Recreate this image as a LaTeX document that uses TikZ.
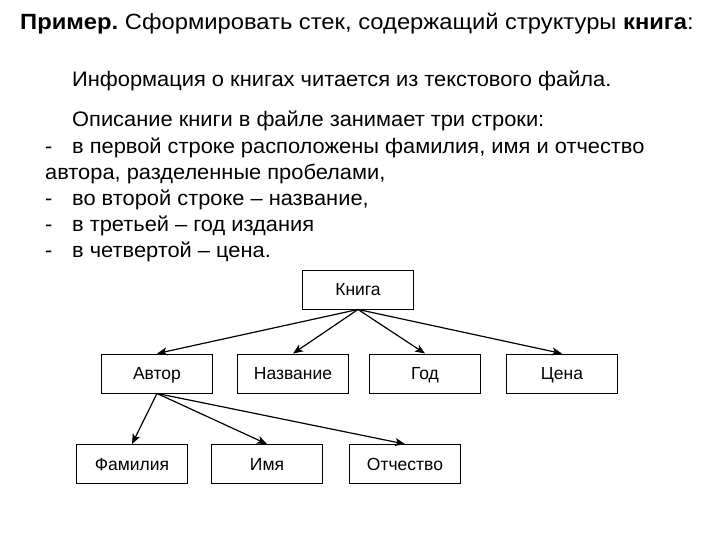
\documentclass[tikz,border=0pt]{standalone}
\usepackage{fontspec}
\setmainfont{Liberation Sans}
\newfontfamily\ttlfont[FakeStretch=1.08,Ligatures=TeX]{Liberation Sans}
\newfontfamily\bodyfont[FakeStretch=1.04,Ligatures=TeX]{Liberation Sans}
\usetikzlibrary{arrows.meta}
\frenchspacing
\begin{document}
\begin{tikzpicture}[x=1pt,y=-1pt,
  txt/.style={anchor=base west,inner sep=0pt,font=\bodyfont\fontsize{21}{24}\selectfont},
  ttl/.style={anchor=base west,inner sep=0pt,font=\ttlfont\fontsize{22}{26}\selectfont},
  box/.style={draw,line width=0.9pt,minimum width=111pt,minimum height=39pt,inner sep=0pt,
    text height=12.5pt,text depth=0pt,font=\fontsize{17.5}{20}\selectfont},
  arr/.style={line width=1.2pt,-{Stealth[length=10pt,width=8pt,inset=2.5pt]}}]
\useasboundingbox (0,0) rectangle (720,540);
\node[ttl] (t0) at (20,30) {\textbf{Пример.} Сформировать стек, содержащий структуры \textbf{книга}:};
\node[txt] (l1) at (72,87) {Информация о книгах читается из текстового файла.};
\node[txt] (l2) at (72,127) {Описание книги в файле занимает три строки:};
\node[txt] (d3) at (45,154) {-};
\node[txt] (l3) at (72,154) {в первой строке расположены фамилия, имя и отчество};
\node[txt] (l4) at (45,180) {автора, разделенные пробелами,};
\node[txt] (d5) at (45,206) {-};
\node[txt] (l5) at (72,206) {во второй строке – название,};
\node[txt] (d6) at (45,232) {-};
\node[txt] (l6) at (72,232) {в третьей – год издания};
\node[txt] (d7) at (45,258) {-};
\node[txt] (l7) at (72,258) {в четвертой – цена.};

\node[box] (kn) at (358,289.5) {Книга};
\node[box] (av) at (157,373.5) {Автор};
\node[box] (na) at (293,373.5) {Название};
\node[box] (go) at (425,373.5) {Год};
\node[box] (ce) at (562,373.5) {Цена};
\node[box] (fa) at (132,464) {Фамилия};
\node[box] (im) at (267,464) {Имя};
\node[box] (ot) at (405,464) {Отчество};

\draw[arr] (kn.south) -- (av.north);
\draw[arr] (kn.south) -- (na.north);
\draw[arr] (kn.south) -- (go.north);
\draw[arr] (kn.south) -- (ce.north);
\draw[arr] (av.south) -- (fa.north);
\draw[arr] (av.south) -- (im.north);
\draw[arr] (av.south) -- (ot.north);
\end{tikzpicture}
\end{document}
